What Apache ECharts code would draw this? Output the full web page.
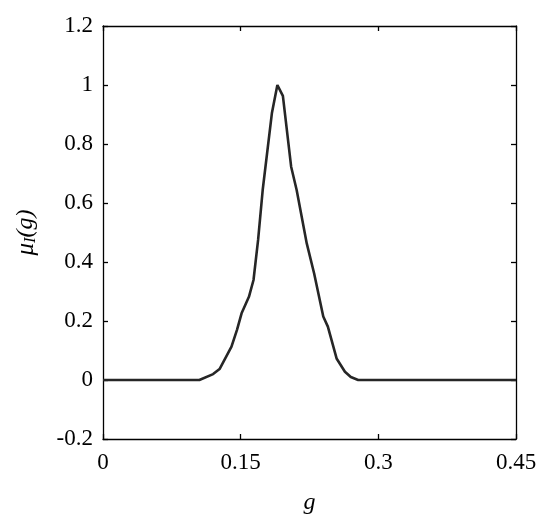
<!DOCTYPE html>
<html>
<head>
	<meta charset="utf-8" />
	<title>mu_I(g)</title>
	<style type="text/css">
	*{margin: 0;padding: 0;}
	#main{width: 550px;height: 525px;}
	</style>
</head>
<body>
<div id="main"></div>
<script src="https://cdn.jsdelivr.net/npm/echarts@6/dist/echarts.min.js"></script>
<script type="text/javascript">
	// data
	var gValues = [0, 0.105, 0.12, 0.127, 0.14, 0.146, 0.151, 0.159, 0.164, 0.169, 0.174, 0.184, 0.19, 0.196, 0.205, 0.211, 0.222, 0.230, 0.240, 0.245, 0.2545, 0.2636, 0.27, 0.278, 0.45];
	var muValues = [0, 0, 0.02, 0.037, 0.113, 0.17, 0.226, 0.282, 0.339, 0.475, 0.644, 0.904, 1.0, 0.963, 0.723, 0.644, 0.463, 0.362, 0.215, 0.181, 0.073, 0.028, 0.01, 0, 0];
	var xTicks = [0, 0.15, 0.3, 0.45];
	var yTicks = [-0.2, 0, 0.2, 0.4, 0.6, 0.8, 1, 1.2];

	var points = [];
	for (var i = 0; i < gValues.length; i++) {
		points.push([gValues[i], muValues[i]]);
	}

	var font = '"Liberation Serif", "Times New Roman", Times, serif';
	var lineStyle = {color: '#000', width: 1.3};
	var tick = {show: true, inside: true, length: 5, lineStyle: {color: '#000', width: 1.3}};

	var option = {
		animation: false,
		backgroundColor: '#fff',
		grid: {left: 103, right: 34, top: 26, bottom: 86},
		xAxis: [{
			type: 'value',
			position: 'bottom',
			min: xTicks[0],
			max: xTicks[xTicks.length - 1],
			interval: 0.15,
			name: 'g',
			nameLocation: 'middle',
			nameGap: 52,
			nameTextStyle: {fontFamily: font, fontSize: 24, fontStyle: 'italic', color: '#000'},
			axisLine: {show: true, onZero: false, lineStyle: lineStyle},
			axisTick: tick,
			splitLine: {show: false},
			axisLabel: {fontFamily: font, fontSize: 23, color: '#000', margin: 12}
		}, {
			type: 'value',
			position: 'top',
			min: xTicks[0],
			max: xTicks[xTicks.length - 1],
			interval: 0.15,
			axisLine: {show: true, onZero: false, lineStyle: lineStyle},
			axisTick: tick,
			splitLine: {show: false},
			axisLabel: {show: false}
		}],
		yAxis: [{
			type: 'value',
			position: 'left',
			min: yTicks[0],
			max: yTicks[yTicks.length - 1],
			interval: 0.2,
			name: '{mu|μ}{sub|I}{n|(g)}',
			nameLocation: 'middle',
			nameGap: 64,
			nameRotate: 90,
			nameTextStyle: {
				rich: {
					mu: {fontFamily: font, fontSize: 25, fontStyle: 'italic', color: '#000'},
					sub: {fontFamily: font, fontSize: 17, fontStyle: 'italic', color: '#000', verticalAlign: 'bottom', padding: [9, 0, 0, 0]},
					n: {fontFamily: font, fontSize: 24, fontStyle: 'italic', color: '#000'}
				}
			},
			axisLine: {show: true, onZero: false, lineStyle: lineStyle},
			axisTick: tick,
			splitLine: {show: false},
			axisLabel: {fontFamily: font, fontSize: 23, color: '#000', margin: 10}
		}, {
			type: 'value',
			position: 'right',
			min: yTicks[0],
			max: yTicks[yTicks.length - 1],
			interval: 0.2,
			axisLine: {show: true, onZero: false, lineStyle: lineStyle},
			axisTick: tick,
			splitLine: {show: false},
			axisLabel: {show: false}
		}],
		series: [{
			type: 'line',
			data: points,
			showSymbol: false,
			symbol: 'none',
			lineStyle: {color: '#262626', width: 2.6}
		}]
	};

	var chart = echarts.init(document.getElementById('main'));
	chart.setOption(option);
</script>
</body>
</html>
